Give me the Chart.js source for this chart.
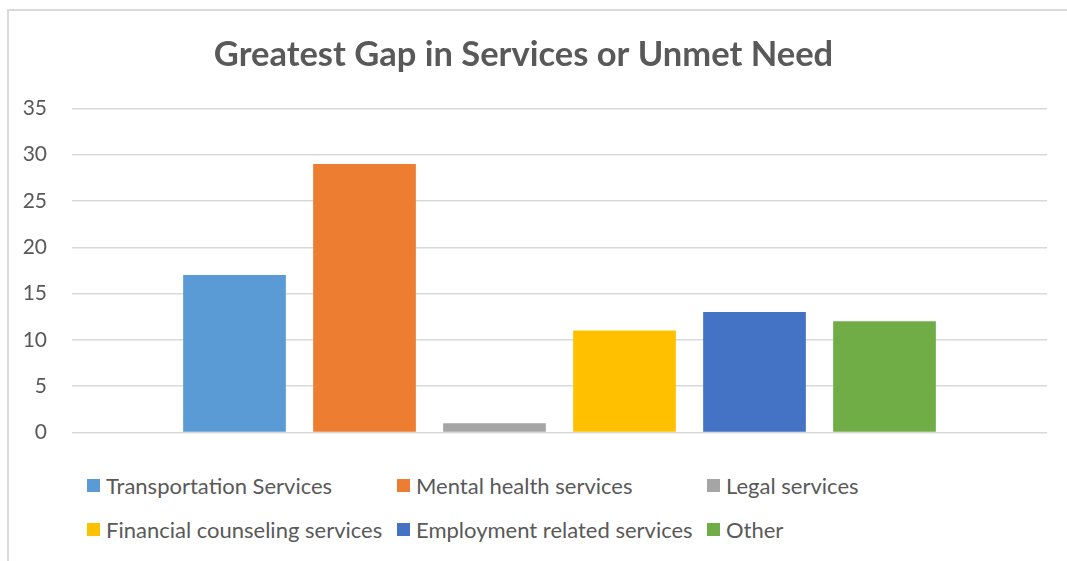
<!DOCTYPE html>
<html>
<head>
<meta charset="utf-8">
<script src="https://cdn.jsdelivr.net/npm/chart.js@4"></script>
<style>
  body { margin: 0; background: #fff; font-family: Lato, "Liberation Sans", sans-serif; }
  #frame { position: absolute; left: 7px; top: 9px; width: 1080px; height: 580px;
           border-left: 2px solid #d9d9d9; border-top: 2px solid #d9d9d9; }
  #wrap { position: absolute; left: 0; top: 0; width: 1067px; height: 470px; }
  #legend { position: absolute; left: 87px; top: 472px; width: 960px; }
  .item { position: absolute; display: flex; align-items: center; color: #595959;
          font-size: 22px; white-space: nowrap; }
  .box { width: 13px; height: 13px; margin-right: 6px; }
</style>
</head>
<body>
<div id="frame"></div>
<div id="wrap"><canvas id="grafico"></canvas></div>
<div id="legend"></div>
<script>
const servicos = ['Transportation Services', 'Mental health services', 'Legal services',
                  'Financial counseling services', 'Employment related services', 'Other'];
const respostas = [17, 29, 1, 11, 13, 12];
const cores = ['#5B9BD5', '#ED7D31', '#A5A5A5', '#FFC000', '#4472C4', '#70AD47'];
const ticksY = [0, 5, 10, 15, 20, 25, 30, 35];

const datasets = servicos.map((nome, i) => ({
    label: nome,
    data: [respostas[i]],
    backgroundColor: cores[i],
    categoryPercentage: 0.8,
    barPercentage: 0.79
}));

new Chart(document.getElementById('grafico'), {
    type: 'bar',
    data: { labels: [''], datasets: datasets },
    options: {
        responsive: true,
        maintainAspectRatio: false,
        animation: false,
        layout: { padding: { left: 0, right: 20, top: 0, bottom: 19 } },
        scales: {
            x: {
                ticks: { display: false },
                grid: { display: false },
                border: { display: false },
                afterFit: s => { s.height = 0; }
            },
            y: {
                min: 0, max: 35,
                afterBuildTicks: s => { s.ticks = ticksY.map(v => ({ value: v })); },
                ticks: { color: '#595959', font: { family: 'Lato', size: 21 }, padding: 25 },
                grid: { color: '#d9d9d9', lineWidth: 1.5, drawTicks: false },
                border: { display: false },
                afterFit: s => { s.width = 72; }
            }
        },
        plugins: {
            legend: { display: false },
            tooltip: { enabled: false },
            title: {
                display: true,
                text: 'Greatest Gap in Services or Unmet Need',
                color: '#595959',
                font: { family: 'Lato', size: 34.5, weight: 'bold', lineHeight: 1.2 },
                padding: { top: 34, bottom: 33 }
            }
        }
    }
});

// legenda em grade, 3 colunas como no original
const legenda = document.getElementById('legend');
servicos.forEach((nome, i) => {
    const el = document.createElement('div');
    el.className = 'item';
    el.style.left = (i % 3) * 310 + 'px';
    el.style.top = Math.floor(i / 3) * 44 + 'px';
    el.innerHTML = '<span class="box" style="background:' + cores[i] + '"></span>' + nome;
    legenda.appendChild(el);
});
</script>
</body>
</html>
